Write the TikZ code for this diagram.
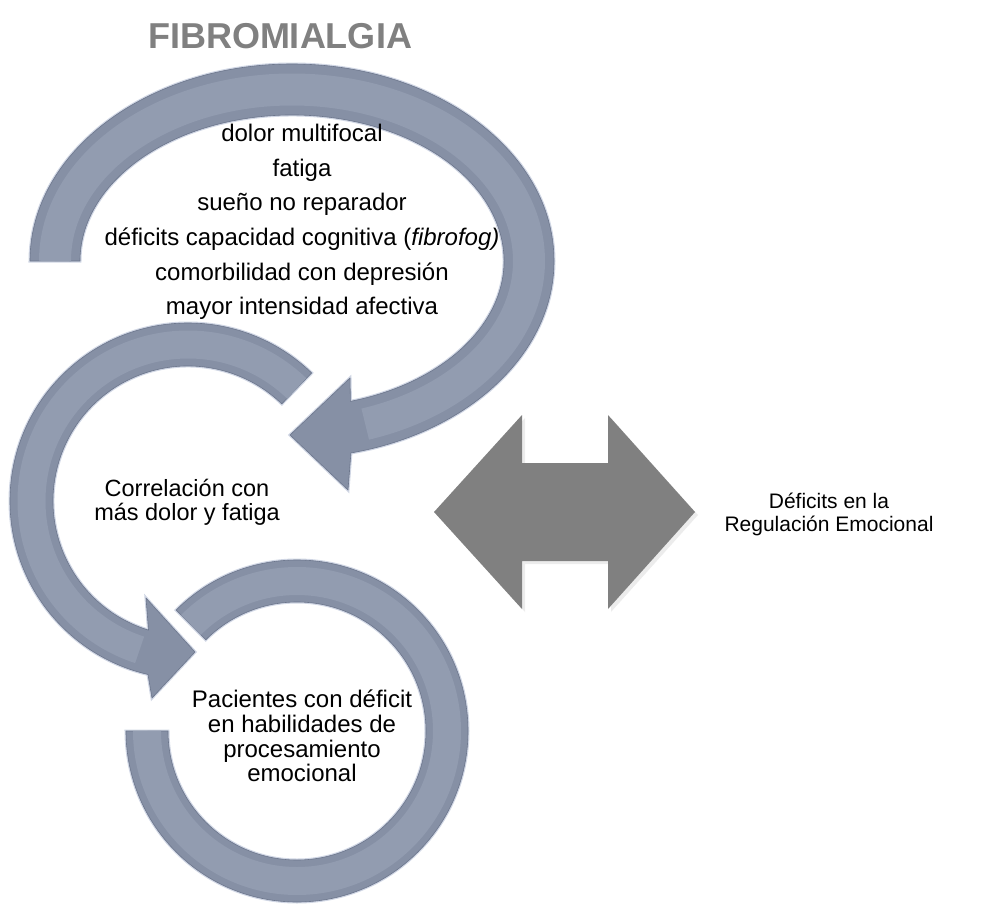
\documentclass[tikz,border=0pt]{standalone}
\usepackage{fontspec}
\setmainfont{Liberation Sans}
\usetikzlibrary{shadows}
\definecolor{ringfill}{RGB}{134,144,165}
\definecolor{ringlight}{RGB}{146,156,176}
\definecolor{ringedge}{RGB}{108,118,140}
\definecolor{ringglow}{RGB}{208,214,228}
\definecolor{arrowgray}{RGB}{128,128,128}
\definecolor{titlegray}{RGB}{128,128,128}
\begin{document}
\begin{tikzpicture}[x=1pt,y=-1pt,
  ring/.style={fill=ringfill, draw=ringedge, line width=0.6pt, line join=round,
    preaction={draw=ringglow, line width=3pt}},
  strip/.style={draw=ringlight, line width=30pt},
  dblarrow/.style={fill=arrowgray, drop shadow={opacity=0.15, shadow xshift=3pt, shadow yshift=-3pt}},
  txt/.style={align=center, inner sep=0pt, text=black}]
\useasboundingbox (0,0) rectangle (997,905);

% ---- top ring (Fibromialgia) ----
\path[ring] ([shift={(292,261)}]180:262 and 197)
  arc[start angle=180, end angle=437, x radius=262, y radius=197]
  -- (348,490) -- (290,435) -- (350,378)
  -- ([shift={(292,261)}]434:212 and 146)
  arc[start angle=434, end angle=180, x radius=212, y radius=146] -- cycle;
\draw[strip, line width=32pt] ([shift={(292,261)}]180:237 and 171.5)
  arc[start angle=180, end angle=432, x radius=237, y radius=171.5];

% ---- middle ring ----
\path[ring] ([shift={(188,501)}]314:178)
  arc[start angle=314, end angle=103, radius=178]
  -- (152,698) -- (195,652) -- (146,598)
  -- ([shift={(188,501)}]107:135)
  arc[start angle=107, end angle=314, radius=135] -- cycle;
\draw[strip, line width=28pt] ([shift={(188,501)}]314:156.5)
  arc[start angle=314, end angle=108, radius=156.5];

% ---- bottom ring ----
\path[ring] ([shift={(297,731)}]225:171)
  arc[start angle=225, end angle=540, radius=171]
  -- ([shift={(297,731)}]540:129)
  arc[start angle=540, end angle=225, radius=129] -- cycle;
\draw[strip, line width=28pt] ([shift={(297,731)}]225:150)
  arc[start angle=225, end angle=540, radius=150];

% ---- double arrow ----
\path[dblarrow] (434,512) -- (522,415) -- (522,463) -- (608,463) -- (608,415)
  -- (695,512) -- (608,609) -- (608,561) -- (522,561) -- (522,609) -- cycle;

% ---- texts ----
\node[font=\bfseries\fontsize{36pt}{40pt}\selectfont, text=titlegray, inner sep=0pt] (title) at (280,36) {FIBROMIALGIA};
\node[txt, font={\fontsize{24pt}{34.7pt}\selectfont}] (sintomas) at (302,222)
  {dolor multifocal\\fatiga\\sueño no reparador\\déficits capacidad cognitiva (\textit{fibrofog)}\\comorbilidad con depresión\\mayor intensidad afectiva};
\node[txt, font={\fontsize{23.5pt}{24pt}\selectfont}] (correl) at (187,502)
  {Correlación con\\más dolor y fatiga};
\node[txt, font={\fontsize{24pt}{24.7pt}\selectfont}] (pacientes) at (302,736)
  {Pacientes con déficit\\en habilidades de\\procesamiento\\emocional};
\node[txt, font={\fontsize{21pt}{23pt}\selectfont}] (regul) at (829,514)
  {Déficits en la\\Regulación Emocional};
\end{tikzpicture}
\end{document}
